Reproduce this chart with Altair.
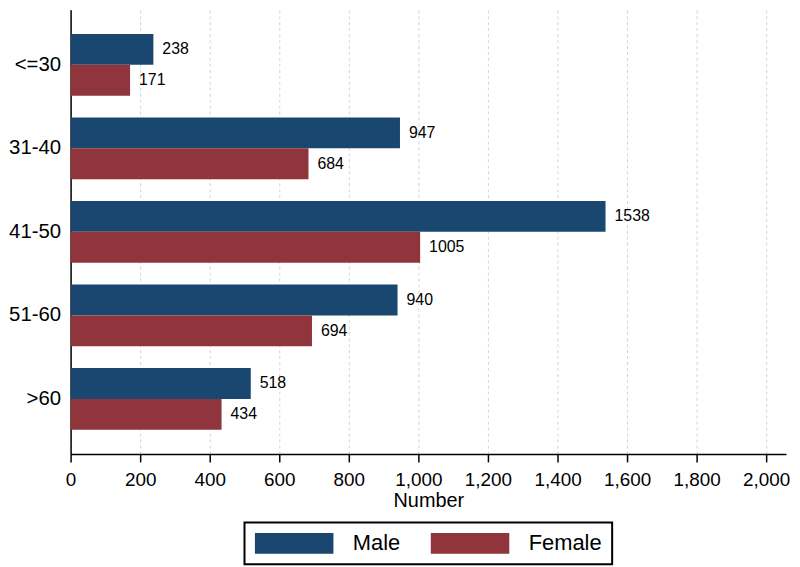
import altair as alt
import pandas as pd

ages = ["<=30", "31-40", "41-50", "51-60", ">60"]
male = [238, 947, 1538, 940, 518]
female = [171, 684, 1005, 694, 434]
sexes = ["Male", "Female"]
colors = ["#1a476f", "#90353b"]
ticks = [0, 200, 400, 600, 800, 1000, 1200, 1400, 1600, 1800, 2000]

rows = []
for a, m, f in zip(ages, male, female):
    rows.append({"age": a, "sex": "Male", "value": m})
    rows.append({"age": a, "sex": "Female", "value": f})
df = pd.DataFrame(rows)

FONT = "Liberation Sans"

y_enc = alt.Y("age:N", sort=ages, title=None,
              scale=alt.Scale(paddingInner=0.262, paddingOuter=0.29),
              axis=alt.Axis(ticks=False, labelFontSize=20.5, labelPadding=10,
                            labelColor="black", domainColor="black",
                            domainWidth=1.5, labelFont=FONT))
yoff = alt.YOffset("sex:N", sort=sexes)

x_enc = alt.X("value:Q", title="Number",
              scale=alt.Scale(domain=[0, 2057], nice=False, zero=True),
              axis=alt.Axis(values=ticks, format=",d", labelFontSize=19,
                            labelColor="black", labelFont=FONT,
                            titleFont=FONT, titleFontSize=20,
                            titleFontWeight="normal", titleColor="black",
                            titlePadding=1, tickSize=8, tickColor="black",
                            tickWidth=1.5, domainColor="black", domainWidth=1.5,
                            labelPadding=9, grid=True, gridColor="#d4d4d4",
                            gridDash=[3, 3], gridWidth=1, labelFlush=False))

bars = alt.Chart(df).mark_bar().encode(
    y=y_enc,
    yOffset=yoff,
    x=x_enc,
    color=alt.Color("sex:N", sort=sexes,
                    scale=alt.Scale(domain=sexes, range=colors),
                    legend=alt.Legend(title=None, orient="none",
                                      direction="horizontal",
                                      legendX=175, legendY=516,
                                      symbolType="M-1,-1L6.524,-1L6.524,1L-1,1Z",
                                      symbolSize=441, symbolStrokeWidth=0,
                                      symbolOpacity=1,
                                      labelFontSize=22, labelFont=FONT,
                                      labelColor="black", labelOffset=77,
                                      columnPadding=30, padding=10,
                                      strokeColor="black")),
)

labels = alt.Chart(df).mark_text(align="left", baseline="middle", dx=9,
                                 fontSize=16, font=FONT, color="black").encode(
    y=alt.Y("age:N", sort=ages),
    yOffset=yoff,
    x=alt.X("value:Q"),
    text=alt.Text("value:Q", format="d"),
)

chart = alt.layer(bars, labels).properties(
    width=720, height=447,
    padding={"left": 0, "top": 0, "right": 2, "bottom": 0},
    background="white",
).configure_view(strokeWidth=0).configure_legend(strokeWidth=2)

chart.save("out.html", embed_options={"renderer": "svg", "actions": False})
